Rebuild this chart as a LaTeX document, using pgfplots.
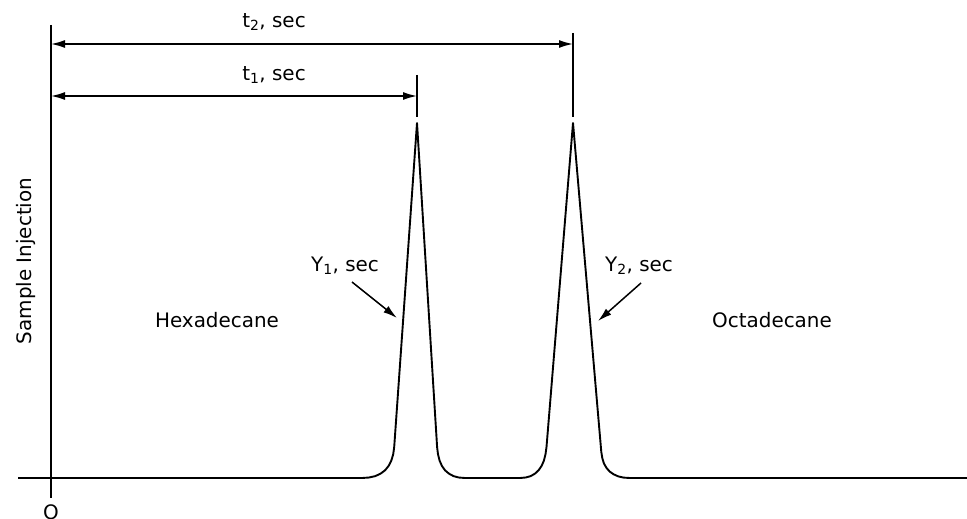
\documentclass[border=0pt]{standalone}
\usepackage{pgfplots}
\pgfplotsset{compat=1.18}
\usepackage{fontspec}
\setmainfont{DejaVu Sans}
\usetikzlibrary{arrows.meta}
\begin{document}
\begin{tikzpicture}
\begin{axis}[
  width=967bp, height=519bp, scale only axis,
  xmin=0, xmax=967, ymin=0, ymax=519, y dir=reverse,
  hide axis, clip=false,
  every axis plot/.append style={line width=1.9bp, no marks, line join=round},
]
% chromatogram trace
\addplot[black] coordinates {
 (18,478) (362,478) (369.1,477.5) (375.3,476.1) (380.6,473.6) (385.1,470.25)
 (388.6,465.9) (391.3,460.6) (393.2,454.3) (394.2,447)
 (417,123)
 (437.1,447) (438.0,454.3) (439.6,460.6) (441.9,465.9) (445.0,470.25)
 (448.9,473.6) (453.5,476.1) (458.7,477.5) (465,478)
 (520,478) (525.7,477.5) (530.7,476.1) (535.0,473.6) (538.6,470.25)
 (541.6,465.9) (543.9,460.6) (545.5,454.3) (546.5,447)
 (573,123)
 (601.3,452) (602.3,458.1) (603.9,463.4) (606.4,467.8) (609.6,471.5)
 (613.6,474.3) (618.3,476.4) (623.7,477.6) (630,478) (967,478)
};
% vertical axis (sample injection)
\addplot[black, line width=1.6bp] coordinates {(51,25) (51,498)};
% peak markers
\addplot[black, line width=1.6bp] coordinates {(417,75) (417,117)};
\addplot[black, line width=1.6bp] coordinates {(573,33) (573,117)};
% retention time arrows
\addplot[black, {Latex[length=14bp,width=8bp]}-{Latex[length=14bp,width=8bp]}, line width=1.5bp] coordinates {(51,44) (573,44)};
\addplot[black, {Latex[length=14bp,width=8bp]}-{Latex[length=14bp,width=8bp]}, line width=1.5bp] coordinates {(51,96) (417,96)};
% width arrows
\addplot[black, -{Latex[length=14bp,width=8bp]}, line width=1.5bp] coordinates {(352,282) (397,318)};
\addplot[black, -{Latex[length=14bp,width=8bp]}, line width=1.5bp] coordinates {(641,283) (598,321)};
% texts
\begin{scope}[every node/.style={font=\fontsize{20}{24}\selectfont, inner sep=0pt}]
\node at (axis cs:274,22) {t\textsubscript{2}, sec};
\node at (axis cs:274,75) {t\textsubscript{1}, sec};
\node at (axis cs:345,266) {Y\textsubscript{1}, sec};
\node at (axis cs:639,266) {Y\textsubscript{2}, sec};
\node at (axis cs:217,320) {Hexadecane};
\node at (axis cs:772,320) {Octadecane};
\node[rotate=90] at (axis cs:26,261) {Sample Injection};
\node at (axis cs:51,512) {O};
\end{scope}
\coordinate (bbA) at (rel axis cs:0,0);
\coordinate (bbB) at (rel axis cs:1,1);
\end{axis}
\pgfresetboundingbox
\path (bbA) rectangle (bbB);
\end{tikzpicture}
\end{document}
